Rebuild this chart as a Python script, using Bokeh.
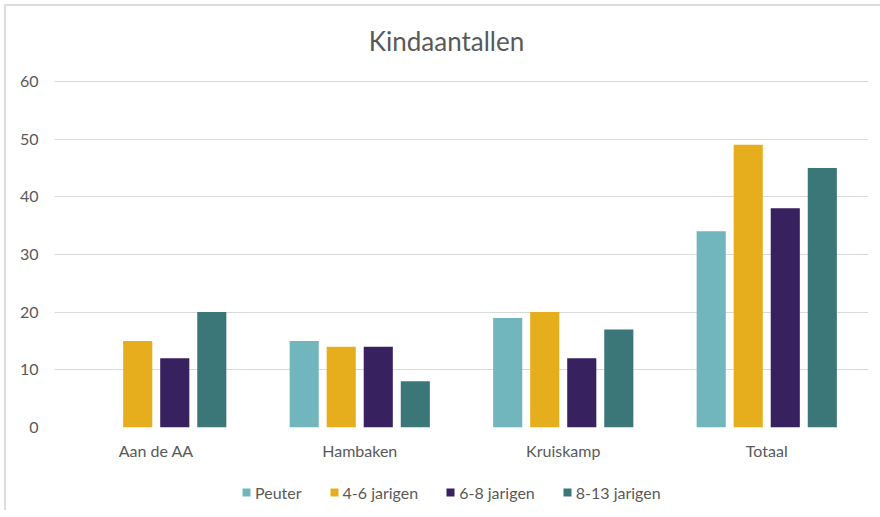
from bokeh.plotting import figure
from bokeh.layouts import column
from bokeh.models import ColumnDataSource, Range1d, FactorRange, Legend, LegendItem, FixedTicker, Label
from bokeh.transform import dodge
from bokeh.embed import file_html
from bokeh.resources import INLINE

categories = ["Aan de AA", "Hambaken", "Kruiskamp", "Totaal"]
series_names = ["Peuter", "4-6 jarigen", "6-8 jarigen", "8-13 jarigen"]
peuter = [0, 15, 19, 34]
jarigen_4_6 = [15, 14, 20, 49]
jarigen_6_8 = [12, 14, 12, 38]
jarigen_8_13 = [20, 8, 17, 45]
y_ticks = [0, 10, 20, 30, 40, 50, 60]
title_text = "Kindaantallen"

colors = ["#70B6BC", "#E6AE1C", "#37215F", "#3B7678"]
offsets = [-0.273, -0.091, 0.091, 0.273]
keys = ["peuter", "j46", "j68", "j813"]

source = ColumnDataSource(dict(cats=categories, peuter=peuter, j46=jarigen_4_6,
                               j68=jarigen_6_8, j813=jarigen_8_13))

TEXT = "#595959"
FONT = "Lato"


def strip(height):
    f = figure(width=874, height=height, output_backend="svg", toolbar_location=None,
               x_range=Range1d(0, 1), y_range=Range1d(0, 1),
               min_border_left=0, min_border_right=0, min_border_top=0, min_border_bottom=0)
    f.axis.visible = False
    f.grid.visible = False
    f.outline_line_color = None
    f.border_fill_color = "white"
    return f


# title strip
tt = strip(60)
tt.add_layout(Label(x=392, y=26, x_units="screen", y_units="screen", text=title_text,
                    text_align="center", text_baseline="middle", text_font=FONT,
                    text_font_size="26px", text_color=TEXT))

# main chart
p = figure(x_range=FactorRange(*categories), y_range=Range1d(0, 60.15),
           width=874, height=404, output_backend="svg", toolbar_location=None,
           min_border_left=48, min_border_right=12, min_border_top=14, min_border_bottom=43)
p.outline_line_color = None
p.background_fill_color = "white"
p.border_fill_color = "white"

for k, off, c in zip(keys, offsets, colors):
    p.vbar(x=dodge("cats", off, range=p.x_range), top=k, width=0.143, source=source,
           fill_color=c, line_color=None)

p.xgrid.grid_line_color = None
p.ygrid.grid_line_color = "#D9D9D9"
p.ygrid.grid_line_width = 1
p.yaxis.ticker = FixedTicker(ticks=y_ticks)

for ax in (p.xaxis, p.yaxis):
    ax.axis_line_color = None
    ax.major_tick_line_color = None
    ax.minor_tick_line_color = None
    ax.major_tick_out = 0
    ax.major_tick_in = 0
    ax.major_label_text_font = FONT
    ax.major_label_text_font_size = "16px"
    ax.major_label_text_color = TEXT
p.yaxis.major_label_standoff = 16
p.xaxis.major_label_standoff = 13

# legend strip below the chart
lg = strip(40)
legend_renderers = []
for c in colors:
    # zero-height placeholder bars, only used to draw the legend swatches
    legend_renderers.append(lg.vbar(x=[0.5], top=[0], bottom=[0], width=0.01,
                                    fill_color=c, line_color=None))

legend = Legend(items=[LegendItem(label=n, renderers=[r]) for n, r in zip(series_names, legend_renderers)],
                orientation="horizontal", location=(187, 8),
                glyph_width=10, glyph_height=10, label_standoff=4, spacing=27,
                padding=0, margin=0, border_line_color=None, background_fill_alpha=0,
                label_text_font=FONT, label_text_font_size="16px", label_text_color=TEXT,
                label_height=20)
lg.add_layout(legend, "center")

layout = column(tt, p, lg, spacing=0,
                styles={"margin-left": "4px", "margin-top": "4px",
                        "border-left": "2px solid #dcdcdc", "border-top": "2px solid #dcdcdc"})

open("out.html", "w").write(file_html(layout, INLINE))
